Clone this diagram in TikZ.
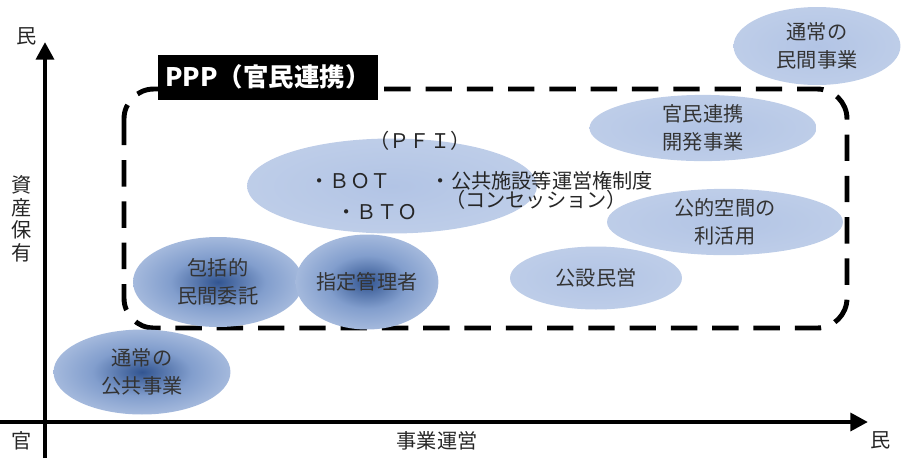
\documentclass[tikz,border=0pt]{standalone}
\usepackage{fontspec}
\newfontfamily\jp{Noto Sans CJK JP}
\usepackage{tikz}
\usetikzlibrary{positioning, arrows.meta, shapes.geometric}

\definecolor{blobdeep}{RGB}{50,85,145}
\definecolor{blobmid}{RGB}{130,158,205}
\definecolor{bloblight}{RGB}{192,207,233}
\definecolor{blobpale}{RGB}{178,196,229}
\definecolor{blobedge}{RGB}{224,231,245}
\pgfdeclareradialshading{deepblob}{\pgfpoint{0bp}{0bp}}{color(0bp)=(blobdeep); color(14bp)=(blobmid); color(34bp)=(bloblight); color(50bp)=(blobedge)}
\pgfdeclareradialshading{paleblob}{\pgfpoint{0bp}{0bp}}{color(0bp)=(blobpale); color(30bp)=(bloblight); color(50bp)=(blobedge)}

\begin{document}
\begin{tikzpicture}[
    x=0.02cm, y=-0.02cm,
    blob/.style={ellipse, inner sep=0pt, shading=paleblob, font=\jp\fontsize{11.5}{16}\selectfont,
                 align=center, text=black!80},
    deep/.style={blob, shading=deepblob},
    axis/.style={-{Triangle[length=10pt, width=10pt]}, line width=2.8pt},
    frame/.style={line width=2.8pt, dash pattern=on 15pt off 8.5pt, rounded corners=17pt},
    label/.style={font=\jp\fontsize{11.5}{13}\selectfont, text=black!85}
]
    \useasboundingbox (0,0) rectangle (904,458);

    % Axes
    \coordinate (ytop) at (45,42);
    \coordinate (xright) at (868,422);
    \draw[axis] (45,458) -- (ytop);
    \draw[axis] (0,422) -- (xright);
    \node[label] (ymin) at (27,36) {民};
    \node[label] (xmin) at (22,441) {官};
    \node[label] (xmax) at (881,440) {民};
    \node[label, align=center, font=\jp\fontsize{11.5}{12.8}\selectfont] (ylab) at (22,219) {資\\産\\保\\有};
    \node[label] (xlab) at (437,441) {事業運営};

    % PPP frame
    \draw[frame] (124,89) rectangle (847,328);
    \node[fill=black, text=white, minimum width=4.4cm, minimum height=0.9cm,
          font=\jp\bfseries\fontsize{14.5}{16}\selectfont] (ppp) at (268,77) {PPP（官民連携）};

    % Projects
    \node[deep, minimum width=3.54cm, minimum height=1.7cm] (koukyo) at (142,372) {通常の\\公共事業};
    \node[blob, minimum width=5.8cm, minimum height=1.9cm] (pfi) at (392,186) {};
    \node[deep, minimum width=3.4cm, minimum height=1.8cm] (houkatsu) at (218,282) {包括的\\民間委託};
    \node[deep, minimum width=2.8cm, minimum height=1.9cm] (shitei) at (367,282) {指定管理者};
    \node[blob, minimum width=3.44cm, minimum height=1.26cm] (kousetsu) at (596,278) {公設民営};
    \node[blob, minimum width=4.72cm, minimum height=1.28cm] (kouteki) at (725,222) {公的空間の\\利活用};
    \node[blob, minimum width=4.54cm, minimum height=1.26cm] (kanmin) at (703,128) {官民連携\\開発事業};
    \node[blob, minimum width=3.34cm, minimum height=1.56cm] (minkan) at (817,46) {通常の\\民間事業};

    % PFI text
    \node[label] (pfihead) at (420,141) {（ＰＦＩ）};
    \node[label] (bot) at (350,181) {・ＢＯＴ};
    \node[label] (bto) at (377,212) {・ＢＴＯ};
    \node[label] (concession) at (542,181) {・公共施設等運営権制度};
    \node[label] (concession2) at (536,200) {（コンセッション）};

\end{tikzpicture}
\end{document}
